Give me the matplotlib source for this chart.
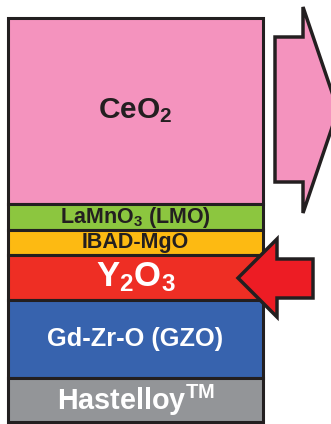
import matplotlib
matplotlib.use("Agg")
import matplotlib.pyplot as plt
from matplotlib.patches import Polygon

plt.rcParams['font.family'] = ['Liberation Sans', 'DejaVu Sans']
plt.rcParams['mathtext.fontset'] = 'custom'
plt.rcParams['mathtext.rm'] = 'Liberation Sans:bold'
plt.rcParams['mathtext.bf'] = 'Liberation Sans:bold'
plt.rcParams['mathtext.it'] = 'Liberation Sans:bold'

# layer stack, top to bottom (thickness in picture units)
layers = ['CeO$_2$', 'LaMnO$_3$ (LMO)', 'IBAD-MgO', 'Y$_2$O$_3$', 'Gd-Zr-O (GZO)', 'Hastelloy$^{TM}$']
thickness = [186, 26, 25, 45, 78, 44]
colors = ['#F493BE', '#8CC63F', '#FDBA12', '#EE2E24', '#3763AE', '#939598']
text_colors = ['#231F20', '#231F20', '#231F20', 'white', 'white', 'white']
font_sizes = [21.5, 15.5, 15.5, 25, 18.3, 20.7]

top = 18
bottoms = []
for t in thickness:
    bottoms.append(top)
    top += t

fig = plt.figure(figsize=(3.31, 4.24), dpi=100)
ax = fig.add_axes([0, 0, 1, 1])
ax.set_xlim(0, 331)
ax.set_ylim(424, 0)
ax.axis('off')

ax.bar([135.5] * len(layers), thickness, bottom=bottoms, width=255,
       color=colors, edgecolor='#231F20', linewidth=2.2)

for name, b, t, tc, fs in zip(layers, bottoms, thickness, text_colors, font_sizes):
    ax.text(135.5, b + t / 2, name, ha='center', va='center', color=tc,
            fontsize=fs, fontweight='bold')

# pink arrow pointing right (out of CeO2)
pink = [(275, 37), (303, 37), (303, 7), (338, 110), (303, 213), (303, 182), (275, 182)]
ax.add_patch(Polygon(pink, closed=True, facecolor='#F493BE', edgecolor='#231F20',
                     linewidth=2.5, joinstyle='miter', clip_on=False))

# red arrow pointing left (into Y2O3)
red = [(313, 259), (277, 259), (277, 239), (238, 278), (277, 317), (277, 298), (313, 298)]
ax.add_patch(Polygon(red, closed=True, facecolor='#ED1C24', edgecolor='#231F20',
                     linewidth=2.5, joinstyle='miter'))

fig.savefig('out.png', dpi=100)
